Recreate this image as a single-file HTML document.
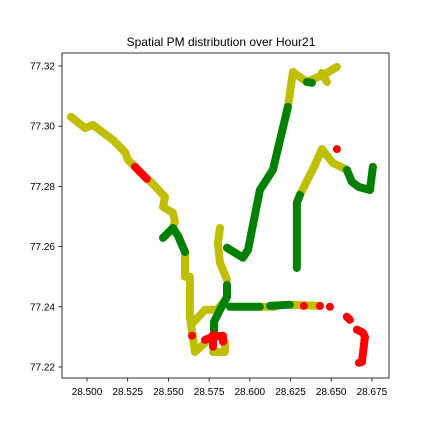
<!DOCTYPE html>
<html><head><meta charset="utf-8"><style>
body{margin:0;background:#fff}
svg text{font-family:"Liberation Sans","DejaVu Sans",sans-serif;fill:#000}
</style></head><body>
<svg id="chart" width="432" height="432" viewBox="0 0 432 432">
<rect width="432" height="432" fill="#fff"/>
<text x="221" y="46" font-size="12" text-anchor="middle">Spatial PM distribution over Hour21</text>
<g id="marks"></g>
<rect x="62" y="53" width="327" height="325" fill="none" stroke="#000" stroke-width="0.8"/>
<g id="xt"></g><g id="yt"></g>
</svg>
<script>
const xTicks=[28.500,28.525,28.550,28.575,28.600,28.625,28.650,28.675];
const yTicks=[77.22,77.24,77.26,77.28,77.30,77.32];
const segColors=["y","r","y","g","y","y","r","r","r","y","y","g","g","y","g","y","g","y","g","y","r","r","r","g","y","r","g","r","r"];
const segLon=[
[28.4902,28.4988,28.5037,28.5160,28.5233,28.5252,28.5295],
[28.5295,28.5368],
[28.5368,28.5399,28.5479,28.5467,28.5528,28.5540,28.5528],
[28.5467,28.5528,28.5559,28.5602],
[28.5602,28.5602,28.5632,28.5632,28.5663,28.5725],
[28.5651,28.5725,28.5798,28.5835],
[28.5645],
[28.5725,28.5768,28.5835,28.5835],
[28.5774,28.5774],
[28.5774,28.5847,28.5847],
[28.5817,28.5804,28.5817,28.5860],
[28.5860,28.5860,28.5817,28.5780,28.5780],
[28.5860,28.5958,28.5989,28.6062,28.6142,28.6234],
[28.6234,28.6265,28.6351,28.6474,28.6535],
[28.6351,28.6382],
[28.6443,28.6474],
[28.5878,28.6062],
[28.6062,28.6154],
[28.6124,28.6246],
[28.6246,28.6431],
[28.6332],[28.6431],[28.6492],
[28.6289,28.6289,28.6308],
[28.6308,28.6400,28.6443,28.6510,28.6596],
[28.6535],
[28.6596,28.6627,28.6670,28.6738,28.6756],
[28.6596,28.6615],
[28.6658,28.6695,28.6707,28.6689,28.6670]
];
const segLat=[
[77.3031,77.2994,77.3004,77.2954,77.2914,77.2888,77.2865],
[77.2865,77.2825],
[77.2825,77.2812,77.2765,77.2732,77.2712,77.2682,77.2662],
[77.2629,77.2662,77.2636,77.2582],
[77.2582,77.2500,77.2500,77.2367,77.2250,77.2280],
[77.2347,77.2390,77.2390,77.2413],
[77.2304],
[77.2290,77.2300,77.2304,77.2284],
[77.2307,77.2267],
[77.2250,77.2250,77.2284],
[77.2662,77.2612,77.2546,77.2490],
[77.2473,77.2433,77.2390,77.2350,77.2314],
[77.2596,77.2563,77.2589,77.2788,77.2855,77.3064],
[77.3064,77.3180,77.3147,77.3177,77.3197],
[77.3147,77.3144],
[77.3177,77.3147],
[77.2400,77.2400],
[77.2400,77.2400],
[77.2403,77.2407],
[77.2407,77.2403],
[77.2403],[77.2403],[77.2400],
[77.2529,77.2745,77.2772],
[77.2772,77.2871,77.2924,77.2878,77.2855],
[77.2924],
[77.2855,77.2815,77.2798,77.2788,77.2865],
[77.2367,77.2357],
[77.2324,77.2314,77.2300,77.2217,77.2214]
];
const X=v=>87+(v-28.5)/0.025*40.7;
const Y=v=>66+(77.32-v)/0.02*60.2;
const col={y:"#bfbf00",g:"#008000",r:"#ff0000"};
const NS="http://www.w3.org/2000/svg";
const marks=document.getElementById("marks");
const order=[0,2,4,5,9,10,13,16,17,18,19,23,24,26,1,3,6,7,8,11,12,14,15,20,21,22,25,27,28];
const draw=i=>{
  const lo=segLon[i],la=segLat[i];
  let d="M"+X(lo[0])+","+Y(la[0]);
  if(lo.length===1)d+="l0.01,0";
  for(let k=1;k<lo.length;k++)d+="L"+X(lo[k])+","+Y(la[k]);
  const p=document.createElementNS(NS,"path");
  p.setAttribute("d",d);p.setAttribute("fill","none");
  p.setAttribute("stroke",col[segColors[i]]);p.setAttribute("stroke-width","8");
  p.setAttribute("stroke-linecap","round");p.setAttribute("stroke-linejoin","round");
  
  
  marks.appendChild(p);
};
order.forEach(i=>{ if(segColors[i]==="y")draw(i); });
order.forEach(i=>{ if(segColors[i]==="g")draw(i); });
order.forEach(i=>{ if(segColors[i]==="r")draw(i); });
const xt=document.getElementById("xt"),yt=document.getElementById("yt");
xTicks.forEach(v=>{
  const x=X(v);
  const l=document.createElementNS(NS,"line");
  l.setAttribute("x1",x);l.setAttribute("x2",x);l.setAttribute("y1",378);l.setAttribute("y2",381.5);l.setAttribute("stroke","#000");l.setAttribute("stroke-width","0.8");
  
  
  xt.appendChild(l);
  const t=document.createElementNS(NS,"text");
  t.setAttribute("x",x);t.setAttribute("y",395);t.setAttribute("font-size","10");t.setAttribute("text-anchor","middle");
  t.textContent=v.toFixed(3);
  
  
  xt.appendChild(t);
});
yTicks.forEach(v=>{
  const y=Y(v);
  const l=document.createElementNS(NS,"line");
  l.setAttribute("x1",58.5);l.setAttribute("x2",62);l.setAttribute("y1",y);l.setAttribute("y2",y);l.setAttribute("stroke","#000");l.setAttribute("stroke-width","0.8");
  
  
  yt.appendChild(l);
  const t=document.createElementNS(NS,"text");
  t.setAttribute("x",55);t.setAttribute("y",y+3.5);t.setAttribute("font-size","10");t.setAttribute("text-anchor","end");
  t.textContent=v.toFixed(2);
  
  
  yt.appendChild(t);
});
</script>
</body></html>
